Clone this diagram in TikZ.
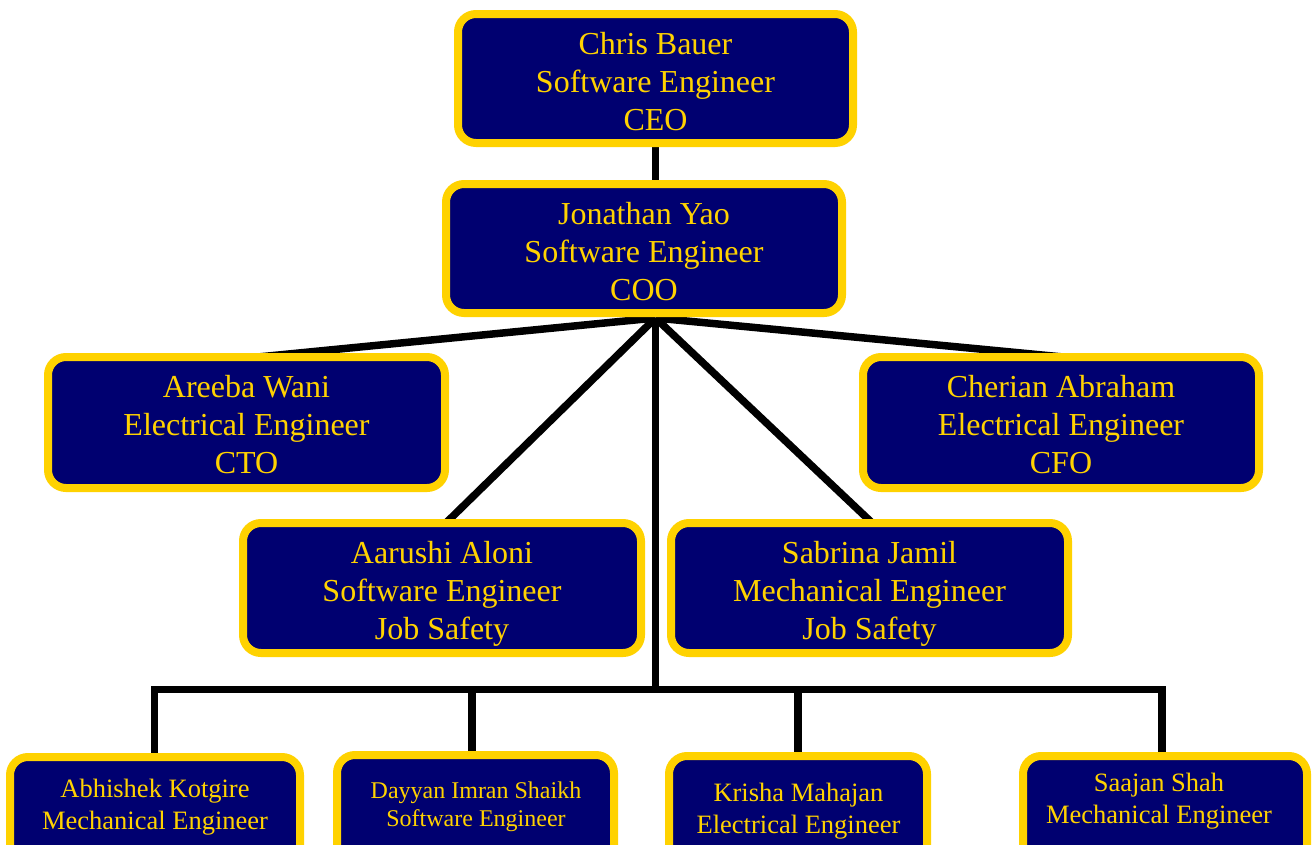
\documentclass[tikz,border=0pt]{standalone}
\usepackage{fontspec}
\setmainfont{Liberation Serif}
\usetikzlibrary{calc}
\definecolor{navy}{RGB}{0,0,112}
\definecolor{gold}{RGB}{255,210,0}
\pgfdeclarelayer{bg}
\pgfsetlayers{bg,main}
\begin{document}
\begin{tikzpicture}[x=1pt,y=-1pt,
  box/.style={draw=gold, line width=8pt, fill=navy, rounded corners=18pt, inner sep=0pt},
  small/.style={box, anchor=north, minimum height=130pt},
  txt/.style={text=gold, align=center, inner sep=0pt},
  bigtext/.style={txt, font=\fontsize{32}{38}\selectfont},
  link/.style={line width=7.5pt, draw=black},
]
\useasboundingbox (0,0) rectangle (1312,844);
\clip (0,0) rectangle (1312,844);

% upper boxes
\node[box, minimum width=395pt, minimum height=129pt] (ceo) at (655.5,78.5) {};
\node[box, minimum width=396pt, minimum height=129pt] (coo) at (644,248.5) {};
\node[box, minimum width=397pt, minimum height=131pt] (cto) at (246.5,422.5) {};
\node[box, minimum width=396pt, minimum height=131pt] (cfo) at (1061,422.5) {};
\node[box, minimum width=398pt, minimum height=130pt] (aar) at (442,588) {};
\node[box, minimum width=397pt, minimum height=130pt] (sab) at (869.5,588) {};

\node[bigtext] (ceot) at ([yshift=-3pt]ceo.center) {Chris Bauer\\Software Engineer\\CEO};
\node[bigtext] (coot) at ([yshift=-3pt]coo.center) {Jonathan Yao\\Software Engineer\\COO};
\node[bigtext] (ctot) at ([yshift=-2pt]cto.center) {Areeba Wani\\Electrical Engineer\\CTO};
\node[bigtext] (cfot) at ([yshift=-2pt]cfo.center) {Cherian Abraham\\Electrical Engineer\\CFO};
\node[bigtext] (aart) at ([yshift=-6pt]aar.center) {Aarushi Aloni\\Software Engineer\\Job Safety};
\node[bigtext] (sabt) at ([yshift=-6pt]sab.center) {Sabrina Jamil\\Mechanical Engineer\\Job Safety};

% bottom boxes
\node[small, minimum width=290pt] (abh) at (155,753) {};
\node[small, minimum width=277pt] (day) at (475.5,751) {};
\node[small, minimum width=258pt] (kri) at (798,752) {};
\node[small, minimum width=284pt] (saa) at (1165,752) {};

\node[txt, font=\fontsize{26.5}{32}\selectfont] (abht) at (155,807.5)
  {Abhishek Kotgire\\Mechanical Engineer};
\node[txt, font=\fontsize{24}{28}\selectfont] (dayt) at (476,807)
  {Dayyan Imran Shaikh\\Software Engineer};
\node[txt, font=\fontsize{26.5}{32}\selectfont] (krit) at (798.5,811)
  {Krisha Mahajan\\Electrical Engineer};
\node[txt, font=\fontsize{26.5}{32}\selectfont] (saat) at (1159,801)
  {Saajan Shah\\Mechanical Engineer};

% connectors
\coordinate (hub) at (655.5,318);
\coordinate (bus) at (655.5,689.5);
\begin{pgfonlayer}{bg}
\draw[link] (ceo.south) -- (ceo.south |- coo.north);
\draw[link] (hub) -- ($(hub)!1.1!([xshift=11.5pt,yshift=-4pt]cto.north)$);
\draw[link] (hub) -- ($(hub)!1.1!([xshift=2pt,yshift=-4pt]cfo.north)$);
\draw[link] (hub) -- ($(hub)!1.05!([xshift=8pt]aar.north)$);
\draw[link] (hub) -- ($(hub)!1.05!([xshift=-1.5pt]sab.north)$);
\draw[link] (hub) -- (bus);
\draw[link] ([xshift=-0.5pt]abh.north) |- (bus) -| ([xshift=-3pt]saa.north);
\draw[link] ([xshift=-3.5pt]day.north) -- ([xshift=-3.5pt]day.north |- bus);
\draw[link] (kri.north) -- (kri.north |- bus);
\end{pgfonlayer}
\end{tikzpicture}
\end{document}
